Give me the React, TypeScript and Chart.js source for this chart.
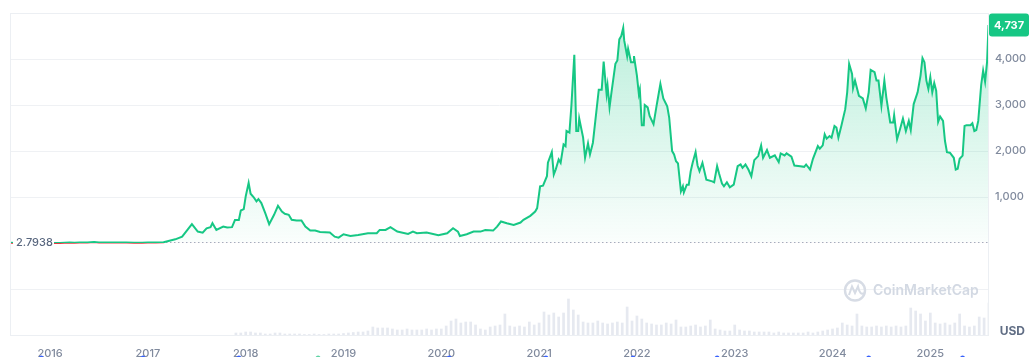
import React, { useEffect, useRef } from "react";
import { Chart, registerables } from "chart.js";

Chart.register(...registerables);

const BASE_PRICE = 2.7938;
const GREEN = "#16c784";
const RED = "#ea3943";

const priceTickLabels = [1000, 2000, 3000, 4000];

const priceDates = [
  2015.6, 2015.64, 2015.68, 2015.72, 2015.76, 2015.8, 2015.85, 2015.9, 2015.95,
  2016.0, 2016.05, 2016.1, 2016.15, 2016.2, 2016.25, 2016.3, 2016.38, 2016.45, 2016.5, 2016.56, 2016.62, 2016.7, 2016.78, 2016.86, 2016.94,
  2017.0, 2017.08, 2017.16, 2017.22, 2017.28, 2017.35, 2017.45, 2017.51, 2017.56, 2017.6, 2017.64, 2017.66, 2017.7, 2017.77, 2017.81, 2017.86, 2017.89, 2017.93, 2017.95, 2017.98,
  2018.0, 2018.03, 2018.05, 2018.08, 2018.11, 2018.13, 2018.16, 2018.2, 2018.24, 2018.29, 2018.33, 2018.37, 2018.4, 2018.44, 2018.47, 2018.52, 2018.57, 2018.61, 2018.66, 2018.71, 2018.76, 2018.86, 2018.91, 2018.95,
  2019.0, 2019.07, 2019.15, 2019.25, 2019.34, 2019.37, 2019.43, 2019.48, 2019.55, 2019.66, 2019.71, 2019.75, 2019.85, 2019.97,
  2020.06, 2020.12, 2020.17, 2020.19, 2020.26, 2020.33, 2020.4, 2020.45, 2020.53, 2020.57, 2020.61, 2020.67, 2020.74, 2020.81, 2020.84, 2020.91, 2020.96, 2020.98,
  2021.01, 2021.04, 2021.08, 2021.09, 2021.13, 2021.15, 2021.17, 2021.2, 2021.22, 2021.25, 2021.27, 2021.28, 2021.31, 2021.33, 2021.36, 2021.38, 2021.4, 2021.41, 2021.45, 2021.47, 2021.5, 2021.52, 2021.55, 2021.61, 2021.64, 2021.66, 2021.69, 2021.7, 2021.72, 2021.74, 2021.78, 2021.8, 2021.82, 2021.84, 2021.86, 2021.87, 2021.9, 2021.91, 2021.94, 2021.96, 2021.97,
  2022.0, 2022.02, 2022.03, 2022.05, 2022.07, 2022.08, 2022.11, 2022.13, 2022.17, 2022.2, 2022.21, 2022.24, 2022.27, 2022.31, 2022.33, 2022.36, 2022.38, 2022.4, 2022.42, 2022.45, 2022.47, 2022.48, 2022.51, 2022.53, 2022.55, 2022.57, 2022.6, 2022.62, 2022.64, 2022.67, 2022.71, 2022.77, 2022.79, 2022.82, 2022.84, 2022.87, 2022.89, 2022.92, 2022.95, 2022.99,
  2023.03, 2023.06, 2023.08, 2023.11, 2023.14, 2023.17, 2023.2, 2023.24, 2023.27, 2023.29, 2023.33, 2023.36, 2023.41, 2023.45, 2023.47, 2023.51, 2023.53, 2023.58, 2023.61, 2023.67, 2023.71, 2023.73, 2023.77, 2023.8, 2023.85, 2023.87, 2023.9, 2023.92, 2023.94, 2023.97, 2023.99,
  2024.02, 2024.04, 2024.06, 2024.09, 2024.13, 2024.15, 2024.17, 2024.2, 2024.21, 2024.23, 2024.27, 2024.31, 2024.34, 2024.37, 2024.39, 2024.43, 2024.45, 2024.47, 2024.5, 2024.53, 2024.55, 2024.59, 2024.62, 2024.63, 2024.66, 2024.69, 2024.72, 2024.75, 2024.78, 2024.8, 2024.83, 2024.87, 2024.9, 2024.92, 2024.94, 2024.96, 2024.98,
  2025.0, 2025.02, 2025.04, 2025.06, 2025.08, 2025.1, 2025.13, 2025.15, 2025.17, 2025.2, 2025.24, 2025.26, 2025.28, 2025.3, 2025.33, 2025.35, 2025.37, 2025.41, 2025.43, 2025.45, 2025.47, 2025.49, 2025.52, 2025.54, 2025.56, 2025.58, 2025.595,
];

const priceValues = [
  2.79, 1.3, 1.2, 0.9, 0.6, 0.5, 0.9, 0.9, 0.95,
  0.95, 1.4, 2.5, 6, 11, 8, 9, 12, 19, 12, 11, 11, 12.5, 11, 8, 8,
  9, 11, 15, 50, 80, 140, 410, 250, 225, 320, 345, 430, 285, 356, 335, 345, 500, 500, 707, 737,
  1013, 1306, 1072, 1000, 904, 956, 868, 650, 410, 613, 810, 685, 635, 613, 503, 488, 488, 357, 270, 270, 240, 230, 138, 116,
  190, 153, 175, 212, 212, 284, 284, 343, 248, 197, 248, 212, 226, 168,
  212, 321, 248, 153, 190, 248, 248, 284, 270, 357, 467, 430, 394, 445, 503, 590, 685, 759,
  1232, 1247, 1451, 1744, 1976, 1488, 1597, 1816, 1744, 2144, 2107, 2435, 2400, 2982, 4092, 2435, 2435, 2706, 2290, 1853, 2166, 1926, 2180, 3332, 3332, 3945, 3238, 3420, 2947, 3275, 3895, 3967, 4426, 4500, 4676, 4404, 4063, 4223, 3931, 3931, 4063,
  3639, 3238, 3332, 2560, 2560, 2998, 2947, 2764, 2582, 2969, 3092, 3457, 3144, 2969, 2728, 1998, 1926, 1779, 1729, 1123, 1232, 1101, 1269, 1269, 1560, 1744, 1976, 1685, 1560, 1744, 1378, 1341, 1320, 1670, 1510, 1291, 1232, 1320, 1210, 1269,
  1670, 1707, 1634, 1707, 1597, 1451, 1801, 1889, 2122, 1853, 2020, 1853, 1904, 1758, 1948, 1904, 1948, 1875, 1685, 1670, 1656, 1707, 1597, 1831, 2107, 2050, 2122, 2363, 2269, 2326, 2290,
  2545, 2509, 2290, 2545, 2910, 3275, 3895, 3676, 3363, 3530, 3200, 3144, 2925, 3275, 3763, 3713, 3530, 3530, 2982, 3530, 3166, 2619, 2619, 2779, 2254, 2473, 2706, 2435, 2654, 2457, 3020, 3275, 3639, 4019, 3931, 3530, 3348,
  3604, 3275, 3479, 3311, 2632, 2750, 2654, 2217, 1976, 1962, 1853, 1597, 1613, 1831, 1900, 2545, 2560, 2560, 2604, 2435, 2457, 2654, 3435, 3748, 3508, 3931, 4737,
];

// trading volume (relative units), sampled every 0.05 year from 2017.90
const volumeStart = 2017.9;
const volumeStep = 0.05;
const volumeValues = [
  2, 2,
  3, 3, 2, 2, 1, 1, 2, 2, 1, 1, 1, 1, 0.5, 0.5, 1, 0.5, 0.5, 1, 1, 1,
  1.5, 2, 2.5, 3, 3, 4, 8, 7, 7, 7, 6, 5, 5, 6, 5, 5, 5, 6, 5, 6,
  6, 9, 14, 16, 12, 13, 13, 10, 6, 5, 8, 9, 10, 21, 9, 8, 9, 8, 13, 10,
  12, 23, 20, 22, 18, 22, 36, 25, 20, 13, 12, 12, 14, 12, 11, 12, 13, 12, 28, 14,
  19, 16, 12, 11, 10, 10, 12, 11, 15, 8, 8, 9, 10, 8, 9, 15, 6, 5, 4, 4,
  10, 5, 4, 4, 3, 3, 3, 3, 2, 3, 2, 2, 2, 2, 2, 3, 2, 3, 4, 5,
  6, 7, 12, 10, 9, 21, 9, 8, 8, 9, 8, 9, 8, 9, 8, 9, 27, 24, 21, 14,
  22, 12, 11, 12, 10, 12, 21, 9, 8, 9, 18, 17, 32,
];

const eventMarkers = [2015.91, 2016.95, 2017.93, 2018.74, 2020.08, 2021.07, 2021.96, 2022.82, 2024.37, 2025.33];

const FONT = "Inter, 'Noto Sans', sans-serif";

export default function App() {
  const ref = useRef<HTMLCanvasElement | null>(null);

  useEffect(() => {
    if (!ref.current) return;
    const lastPrice = priceValues[priceValues.length - 1];

    const overlay = {
      id: "overlay",
      beforeDatasetsDraw(chart: any) {
        const { ctx, chartArea: a, scales } = chart;
        ctx.save();
        // watermark
        ctx.strokeStyle = "#d7dce5";
        ctx.lineWidth = 2.4;
        ctx.beginPath();
        ctx.arc(855, 290.5, 10, 0, Math.PI * 2);
        ctx.stroke();
        ctx.lineWidth = 2;
        ctx.beginPath();
        ctx.moveTo(849, 295);
        ctx.lineTo(852, 286.5);
        ctx.lineTo(855, 293);
        ctx.lineTo(858, 286.5);
        ctx.quadraticCurveTo(860, 296, 864, 293);
        ctx.stroke();
        ctx.fillStyle = "#d3d9e3";
        ctx.font = `600 14px ${FONT}`;
        ctx.textBaseline = "middle";
        ctx.textAlign = "left";
        ctx.fillText("CoinMarketCap", 873, 291);
        // dotted base line
        const yb = scales.y.getPixelForValue(BASE_PRICE);
        ctx.strokeStyle = "#a6afc0";
        ctx.lineWidth = 1;
        ctx.setLineDash([1.5, 2.5]);
        ctx.beginPath();
        ctx.moveTo(a.left, Math.round(yb) - 0.5);
        ctx.lineTo(a.right, Math.round(yb) - 0.5);
        ctx.stroke();
        ctx.restore();
      },
      afterDatasetsDraw(chart: any) {
        const { ctx, chartArea: a, scales } = chart;
        ctx.save();
        // border
        ctx.strokeStyle = "#eceff3";
        ctx.lineWidth = 1;
        ctx.strokeRect(a.left + 0.5, a.top + 0.5, a.right - a.left - 1, a.bottom - a.top);
        // base label
        const yb = scales.y.getPixelForValue(BASE_PRICE);
        ctx.fillStyle = "#ffffff";
        ctx.fillRect(13, yb - 7, 41, 14);
        ctx.fillStyle = "#58667e";
        ctx.font = `500 11px ${FONT}`;
        ctx.textBaseline = "middle";
        ctx.textAlign = "left";
        ctx.fillText(String(BASE_PRICE), 16, yb);
        // last price box
        const yl = scales.y.getPixelForValue(lastPrice);
        ctx.fillStyle = GREEN;
        ctx.beginPath();
        (ctx as any).roundRect(989, yl - 11.5, 40, 23, 3);
        ctx.fill();
        ctx.fillStyle = "#ffffff";
        ctx.font = `700 11px ${FONT}`;
        ctx.textAlign = "center";
        ctx.fillText(lastPrice.toLocaleString("en-US"), 1009, yl + 0.5);
        // currency
        ctx.fillStyle = "#616e85";
        ctx.font = `700 12px ${FONT}`;
        ctx.textAlign = "right";
        ctx.fillText("USD", 1025, 331);
        // event markers below axis
        eventMarkers.forEach((d, i) => {
          const x = scales.x.getPixelForValue(d);
          ctx.fillStyle = i === 3 ? "#5fd3a4" : "#3861fb";
          ctx.beginPath();
          ctx.arc(x, 358, 2.5, 0, Math.PI * 2);
          ctx.fill();
        });
        ctx.restore();
      },
    };

    const lineData = priceDates.map((d, i) => ({ x: d, y: priceValues[i] }));
    const volData = volumeValues.map((v, i) => ({ x: volumeStart + i * volumeStep, y: v }));

    const chart = new Chart(ref.current, {
      type: "line",
      data: {
        datasets: [
          {
            type: "line",
            data: lineData,
            yAxisID: "y",
            borderWidth: 2,
            pointRadius: 0,
            tension: 0,
            order: 0,
            borderColor: (c: any) => {
              const ch = c.chart;
              const area = ch.chartArea;
              if (!area) return GREEN;
              const yb = ch.scales.y.getPixelForValue(BASE_PRICE);
              const f = Math.min(1, Math.max(0, (yb - area.top) / (area.bottom - area.top)));
              const g = ch.ctx.createLinearGradient(0, area.top, 0, area.bottom);
              g.addColorStop(0, GREEN);
              g.addColorStop(f, GREEN);
              g.addColorStop(Math.min(1, f + 0.0001), RED);
              g.addColorStop(1, RED);
              return g;
            },
            backgroundColor: (c: any) => {
              const ch = c.chart;
              const area = ch.chartArea;
              if (!area) return "rgba(22,199,132,0.1)";
              const yb = ch.scales.y.getPixelForValue(BASE_PRICE);
              const g = ch.ctx.createLinearGradient(0, area.top, 0, yb);
              g.addColorStop(0, "rgba(22,199,132,0.30)");
              g.addColorStop(1, "rgba(22,199,132,0.02)");
              return g;
            },
            fill: { value: BASE_PRICE, below: "rgba(234,57,67,0.12)" },
          } as any,
          {
            type: "bar",
            data: volData,
            yAxisID: "yVol",
            order: 1,
            barThickness: 2,
            backgroundColor: "rgba(205,212,226,0.5)",
          } as any,
        ],
      },
      options: {
        animation: false,
        responsive: false,
        devicePixelRatio: 1,
        parsing: false as any,
        normalized: true,
        layout: { padding: { left: 10, top: 13, right: 0, bottom: 0 } },
        plugins: {
          legend: { display: false },
          tooltip: { enabled: false },
        },
        scales: {
          x: {
            type: "linear",
            offset: false,
            min: 2015.59,
            max: 2025.6,
            grid: { display: false, offset: false },
            border: { display: false },
            afterFit: (s: any) => {
              s.height = 22;
            },
            ticks: {
              stepSize: 1,
              includeBounds: false,
              autoSkip: false,
              maxRotation: 0,
              padding: 4,
              color: "#808a9d",
              font: { family: FONT, size: 11, weight: 500 as any },
              callback: (v: any) => String(v),
            },
          },
          y: {
            type: "linear",
            position: "right",
            min: -2000,
            max: 5000,
            afterFit: (s: any) => {
              s.width = 45;
            },
            border: { display: false },
            grid: {
              drawTicks: false,
              color: (c: any) => (c.tick && c.tick.value === 0 ? "rgba(0,0,0,0)" : "#eff1f4"),
            },
            ticks: {
              stepSize: 1000,
              padding: 6,
              color: "#808a9d",
              font: { family: FONT, size: 11, weight: 500 as any },
              callback: (v: any) =>
                priceTickLabels.includes(Number(v)) ? Number(v).toLocaleString("en-US") : "",
            },
          },
          yVol: {
            type: "linear",
            display: false,
            min: 0,
            max: 322,
          },
        },
      } as any,
      plugins: [overlay],
    });

    let alive = true;
    if ((document as any).fonts && (document as any).fonts.ready) {
      (document as any).fonts.ready.then(() => {
        if (alive) chart.update();
      });
    }
    return () => {
      alive = false;
      chart.destroy();
    };
  }, []);

  return (
    <div style={{ position: "fixed", left: 0, top: 0, width: 1034, height: 357, background: "#fff" }}>
      <canvas ref={ref} width={1034} height={357} style={{ display: "block", width: 1034, height: 357 }} />
    </div>
  );
}
